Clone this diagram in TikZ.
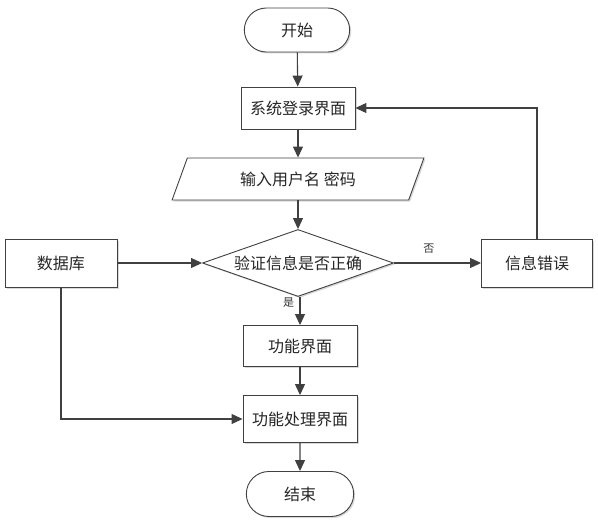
\documentclass[tikz,border=0pt]{standalone}
\usepackage{fontspec}
\newfontfamily\cjk{Noto Sans CJK SC}
\usetikzlibrary{shapes.geometric,shapes.misc,arrows.meta,shadows}
\definecolor{ln}{HTML}{404040}
\tikzset{
  base/.style={draw=ln, line width=0.9pt, fill=white, font=\cjk\fontsize{16}{18}\selectfont, text=black!85,
    drop shadow={shadow xshift=1.5pt, shadow yshift=-1.5pt, fill=black!25, opacity=0.6}},
  proc/.style={base, rectangle, minimum width=114pt, minimum height=42pt, inner sep=0pt},
  term/.style={base, rounded rectangle, minimum width=112pt, minimum height=44pt},
  io/.style={base, trapezium, trapezium left angle=62, trapezium right angle=118, minimum width=252pt, minimum height=42pt, inner sep=0pt, trapezium stretches=true},
  dec/.style={base, diamond, aspect=2.85, minimum width=191pt, minimum height=67pt, inner sep=0pt},
  conn/.style={draw=ln, line width=1.1pt, -{Triangle[length=11pt,width=10pt]}},
  lab/.style={font=\cjk\fontsize{11}{12}\selectfont, text=black!80}
}
\begin{document}
\begin{tikzpicture}[x=1pt,y=-1pt]
\useasboundingbox (0,0) rectangle (598,527);
\node[term] (start) at (297,30) {开始};
\node[proc] (login) at (298,108) {系统登录界面};
\node[io] (input) at (298,179) {输入用户名 密码};
\node[dec] (check) at (298,263) {验证信息是否正确};
\node[proc, minimum width=112pt, minimum height=48pt] (db) at (61,263) {数据库};
\node[proc, minimum width=111pt, minimum height=48pt] (err) at (537,263) {信息错误};
\node[proc, minimum height=41pt] (func) at (300,346) {功能界面};
\node[proc, minimum height=47pt] (proc2) at (300,419) {功能处理界面};
\node[term, minimum width=114pt, minimum height=45pt] (end) at (300,494) {结束};
\draw[conn] (start) -- (login);
\draw[conn] (login.south) -- (login.south |- input.north);
\draw[conn] (input.south -| check.north) -- (check.north);
\draw[conn] (db) -- (check);
\draw[conn] (check) -- node[lab, above, pos=0.4, yshift=6pt] {否} (err);
\draw[conn] (err.north) |- (login.east);
\draw[conn] (check.south -| func.north) -- node[lab, left, pos=0.2, xshift=-2pt] {是} (func.north);
\draw[conn] (func) -- (proc2);
\draw[conn] (db.south) |- (proc2.west);
\draw[conn] (proc2) -- (end);
\end{tikzpicture}
\end{document}
